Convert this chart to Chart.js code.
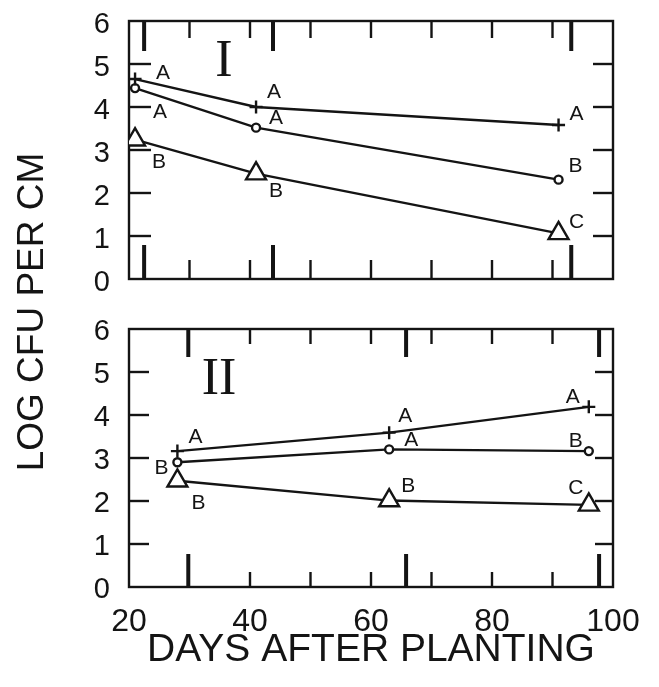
<!DOCTYPE html>
<html><head><meta charset="utf-8">
<script src="https://cdn.jsdelivr.net/npm/chart.js@4/dist/chart.umd.min.js"></script>
<style>
html,body{margin:0;padding:0;background:#fff;}
#wrap{position:relative;width:659px;height:687px;overflow:hidden;}
.layer{position:absolute;left:0;top:0;width:659px;height:687px;}
</style></head><body>
<div id="wrap"><div class="layer"><canvas id="c1" width="659" height="687"></canvas></div><div class="layer"><canvas id="c2" width="659" height="687"></canvas></div></div>
<script>
// ---------- DATA ----------
const daysI = [21, 41, 91];
const plusI = [4.65, 4.0, 3.58];
const circleI = [4.44, 3.52, 2.31];
const triangleI = [3.24, 2.45, 1.06];
const lettersPlusI = ['A', 'A', 'A'];
const lettersCircleI = ['A', 'A', 'B'];
const lettersTriangleI = ['B', 'B', 'C'];

const daysII = [28, 63, 96];
const plusII = [3.16, 3.59, 4.19];
const circleII = [2.9, 3.2, 3.16];
const triangleII = [2.47, 2.01, 1.91];
const lettersPlusII = ['A', 'A', 'A'];
const lettersCircleII = ['B', 'A', 'B'];
const lettersTriangleII = ['B', 'B', 'C'];

const xTickLabels = [20, 40, 60, 80, 100];
const yTickValues = [0, 1, 2, 3, 4, 5, 6];
const yInnerTicks = [1, 2, 3, 4, 5];
const xMinorTicksI = [30, 40, 50, 60, 70, 80, 90];
const xMajorTicksI = [22.5, 43.8, 93.1];
const xMinorTicksII = [40, 50, 60, 70, 80, 90];
const xMajorTicksII = [29.8, 65.8, 97.7];
const panelNames = ['I', 'II'];
const xTitle = 'DAYS AFTER PLANTING';
const yTitle = 'LOG CFU PER CM';

// ---------- STYLE ----------
const INK = '#141414';
const SANS = "'Liberation Sans', Arial, sans-serif";
const SERIF = "'Liberation Serif', 'Times New Roman', serif";
const LW = 2.4;
const offsPlusI = [[28, -6], [18, -15], [18, -11]];
const offsCircleI = [[25, 24], [20, -9], [17, -13]];
const offsTriangleI = [[24, 23], [20, 18], [18, -11]];
const offsPlusII = [[18, -14], [16, -16], [-16, -10]];
const offsCircleII = [[-16, 6], [22, -9], [-13, -10]];
const offsTriangleII = [[21, 22], [19, -14], [-13, -17]];

function series(label, days, vals, shape, letters, offs) {
  const st = {
    plus: {pointStyle: 'cross', pointRadius: 6.5},
    circle: {pointStyle: 'circle', pointRadius: 4},
    triangle: {pointStyle: 'triangle', pointRadius: 11.5}
  }[shape];
  return {
    label, data: days.map((d, i) => ({x: d, y: vals[i]})),
    borderColor: INK, borderWidth: LW, tension: 0, fill: false,
    pointStyle: st.pointStyle, pointRadius: st.pointRadius, pointHoverRadius: st.pointRadius,
    pointBorderColor: INK, pointBackgroundColor: '#fff', pointBorderWidth: LW,
    letters, letterOffsets: offs
  };
}

const panelPlugin = {
  id: 'panel',
  beforeDatasetsDraw(chart, args, o) {
    const {ctx, chartArea: a} = chart;
    const xs = chart.scales.x, ys = chart.scales.y;
    ctx.save();
    ctx.strokeStyle = INK; ctx.lineCap = 'butt';
    const vline = (v, len, w, fromTop) => {
      const px = xs.getPixelForValue(v);
      ctx.lineWidth = w; ctx.beginPath();
      if (fromTop) { ctx.moveTo(px, a.top); ctx.lineTo(px, a.top + len); }
      else { ctx.moveTo(px, a.bottom); ctx.lineTo(px, a.bottom - len); }
      ctx.stroke();
    };
    const hline = (v, len, w, fromLeft) => {
      const py = ys.getPixelForValue(v);
      ctx.lineWidth = w; ctx.beginPath();
      if (fromLeft) { ctx.moveTo(a.left, py); ctx.lineTo(a.left + len, py); }
      else { ctx.moveTo(a.right, py); ctx.lineTo(a.right - len, py); }
      ctx.stroke();
    };
    o.minor.forEach(v => { vline(v, o.minorTop, LW, true); vline(v, o.minorBottom, LW, false); });
    o.major.forEach(v => { vline(v, o.majorTop, 4, true); vline(v, o.majorBottom, 4, false); });
    yInnerTicks.forEach(v => { hline(v, o.leftLen, LW, true); hline(v, o.rightLen, LW, false); });
    ctx.lineWidth = LW;
    ctx.strokeRect(a.left, a.top, a.right - a.left, a.bottom - a.top);
    // panel numeral
    ctx.fillStyle = INK;
    ctx.font = o.numeralFont;
    ctx.textAlign = 'center'; ctx.textBaseline = 'middle';
    ctx.fillText(o.numeral, a.left + o.numeralDx, a.top + o.numeralDy);
    ctx.restore();
  },
  afterDatasetsDraw(chart, args, o) {
    const {ctx} = chart;
    ctx.save();
    ctx.fillStyle = INK;
    ctx.font = '21px ' + SANS;
    ctx.textAlign = 'center'; ctx.textBaseline = 'middle';
    chart.data.datasets.forEach((ds, di) => {
      const meta = chart.getDatasetMeta(di);
      meta.data.forEach((pt, i) => {
        const [dx, dy] = ds.letterOffsets[i];
        ctx.fillText(ds.letters[i], pt.x + dx, pt.y + dy);
      });
    });
    if (o.yTitle) {
      ctx.translate(33, 312);
      ctx.rotate(-Math.PI / 2);
      ctx.font = '37px ' + SANS;
      ctx.fillText(o.yTitle, 0, 0);
    }
    ctx.restore();
  }
};

function yAxis(labelOffset) {
  return {
    type: 'linear', min: 0, max: 6, position: 'left',
    afterFit: s => { s.width = 129; s.paddingTop = 0; s.paddingBottom = 0; },
    afterBuildTicks: s => { s.ticks = yTickValues.map(v => ({value: v})); },
    grid: {display: false, drawTicks: false},
    border: {display: false},
    ticks: {color: INK, font: {family: SANS, size: 29}, padding: 19, autoSkip: false, labelOffset}
  };
}

Chart.defaults.animation = false;

new Chart(document.getElementById('c1'), {
  type: 'line',
  data: {datasets: [
    series('+', daysI, plusI, 'plus', lettersPlusI, offsPlusI),
    series('o', daysI, circleI, 'circle', lettersCircleI, offsCircleI),
    series('triangle', daysI, triangleI, 'triangle', lettersTriangleI, offsTriangleI)
  ]},
  options: {
    responsive: false, devicePixelRatio: 1,
    layout: {padding: {left: 0, right: 46, top: 21, bottom: 408}},
    plugins: {legend: {display: false}, tooltip: {enabled: false},
      panel: {minor: xMinorTicksI, major: xMajorTicksI, minorTop: 17, minorBottom: 19, majorTop: 30, majorBottom: 34,
        leftLen: 22, rightLen: 20, numeral: panelNames[0], numeralFont: '52px ' + SERIF, numeralDx: 95, numeralDy: 41, yTitle: yTitle}},
    scales: {
      x: {type: 'linear', min: 20, max: 100, display: false},
      y: yAxis(4)
    }
  },
  plugins: [panelPlugin]
});

new Chart(document.getElementById('c2'), {
  type: 'line',
  data: {datasets: [
    series('+', daysII, plusII, 'plus', lettersPlusII, offsPlusII),
    series('o', daysII, circleII, 'circle', lettersCircleII, offsCircleII),
    series('triangle', daysII, triangleII, 'triangle', lettersTriangleII, offsTriangleII)
  ]},
  options: {
    responsive: false, devicePixelRatio: 1,
    layout: {padding: {left: 0, right: 46, top: 329, bottom: 0}},
    plugins: {legend: {display: false}, tooltip: {enabled: false},
      panel: {minor: xMinorTicksII, major: xMajorTicksII, minorTop: 15, minorBottom: 15, majorTop: 28, majorBottom: 33,
        leftLen: 20, rightLen: 18, numeral: panelNames[1], numeralFont: '52px ' + SERIF, numeralDx: 90, numeralDy: 51, yTitle: null}},
    scales: {
      x: {type: 'linear', position: 'bottom', min: 20, max: 100,
        afterFit: s => { s.height = 100; s.paddingLeft = 0; s.paddingRight = 0; },
        afterBuildTicks: s => { s.ticks = xTickLabels.map(v => ({value: v})); },
        grid: {display: false, drawTicks: false}, border: {display: false},
        ticks: {color: INK, font: {family: SANS, size: 32}, padding: 16, autoSkip: false, maxRotation: 0},
        title: {display: true, text: xTitle, color: INK, font: {family: SANS, size: 39}, padding: {top: 0, bottom: 13}}
      },
      y: yAxis(3)
    }
  },
  plugins: [panelPlugin]
});
</script>
</body></html>
